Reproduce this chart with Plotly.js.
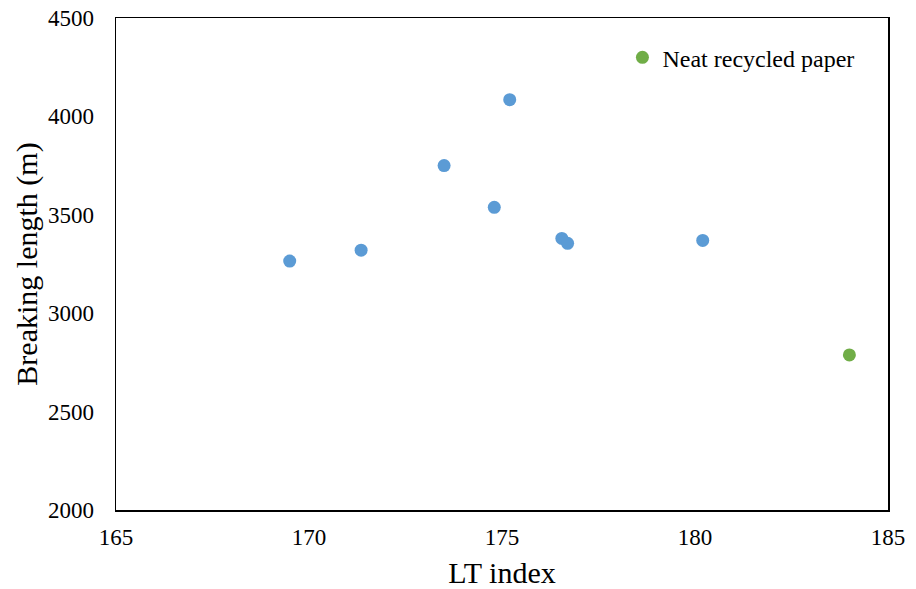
<!DOCTYPE html>
<html>
<head>
<meta charset="utf-8">
<script src="https://cdn.plot.ly/plotly-3.0.1.min.js"></script>
<style>html,body{margin:0;padding:0;background:#fff;}#chart{width:916px;height:589px;}</style>
</head>
<body>
<div id="chart"></div>
<script>
// Recycled paper blends
const ltIndex = [169.5, 171.35, 173.5, 174.8, 175.2, 176.55, 176.7, 180.2];
const breakingLength = [3265, 3320, 3750, 3538, 4085, 3380, 3355, 3370];
// Neat recycled paper
const neatLtIndex = [184.0];
const neatBreakingLength = [2788];
const neatName = "Neat recycled paper";
const xTicks = [165, 170, 175, 180, 185];
const yTicks = [2000, 2500, 3000, 3500, 4000, 4500];

const font = "Liberation Serif, Times New Roman, serif";

const traces = [
  {
    x: ltIndex, y: breakingLength, mode: "markers", type: "scatter",
    marker: {color: "#5B9BD5", size: 13}, showlegend: false, name: "Blends"
  },
  {
    x: neatLtIndex, y: neatBreakingLength, mode: "markers", type: "scatter",
    marker: {color: "#70AD47", size: 13}, name: neatName
  }
];

const layout = {
  width: 916, height: 589,
  margin: {l: 116, r: 28, t: 18, b: 79},
  paper_bgcolor: "#fff", plot_bgcolor: "#fff",
  font: {family: font, color: "#000", size: 23},
  showlegend: true,
  legend: {x: 0.656, y: 0.965, xanchor: "left", yanchor: "top",
           font: {family: font, size: 24, color: "#000"}, bgcolor: "rgba(0,0,0,0)",
           itemwidth: 30},
  xaxis: {
    range: [165, 185], tickvals: xTicks, ticktext: xTicks.map(String),
    showgrid: false, zeroline: false, showline: true, mirror: true,
    linecolor: "#000", linewidth: 1.5, ticks: "", ticklabelstandoff: 6,
    tickfont: {family: font, size: 23},
    title: {text: "LT index", font: {family: font, size: 30}, standoff: 13}
  },
  yaxis: {
    range: [2000, 4500], tickvals: yTicks, ticktext: yTicks.map(String),
    showgrid: false, zeroline: false, showline: true, mirror: true,
    linecolor: "#000", linewidth: 1.5, ticks: "", ticklabelstandoff: 16,
    tickfont: {family: font, size: 23},
    title: {text: "Breaking length (m)", font: {family: font, size: 30}, standoff: 1}
  }
};

Plotly.newPlot("chart", traces, layout, {displayModeBar: false, staticPlot: true});
</script>
</body>
</html>
